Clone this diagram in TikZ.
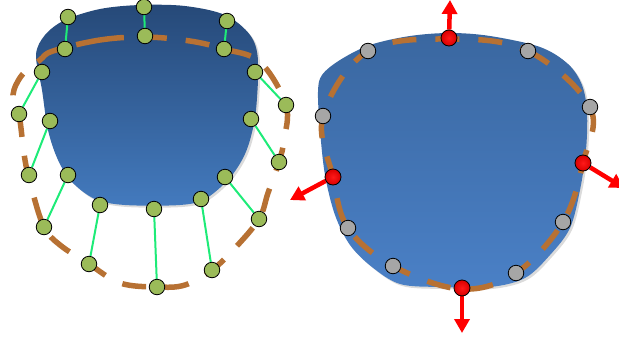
\documentclass[tikz,border=0pt]{standalone}
\usetikzlibrary{arrows.meta}
\pgfdeclarelayer{bg}
\pgfsetlayers{bg,main}
\definecolor{brownd}{RGB}{183,113,51}
\definecolor{gnode}{RGB}{155,187,89}
\definecolor{gline}{RGB}{30,235,120}
\definecolor{gnodegray}{RGB}{166,166,166}
\definecolor{bltop}{RGB}{38,73,120}
\definecolor{blbot}{RGB}{67,122,190}
\definecolor{brtop}{RGB}{58,103,160}
\definecolor{brbot}{RGB}{74,128,198}
\tikzset{
  gdot/.style={circle,draw=black,line width=0.8pt,fill=gnode,minimum size=15.5pt,inner sep=0pt},
  graydot/.style={circle,draw=black,line width=0.8pt,fill=gnodegray,minimum size=15.5pt,inner sep=0pt},
  reddot/.style={circle,draw=black,line width=0.8pt,inner color=red!90,outer color=red!85!black,minimum size=16pt,inner sep=0pt},
  glink/.style={gline,line width=2pt},
  brcurve/.style={brownd,line width=5.5pt,dash pattern=on 24pt off 19pt},
  redarrow/.style={red,line width=4.5pt,-{Triangle[width=15pt,length=14pt]}},
  shadowblob/.style={fill=black!40,opacity=0.35}
}
\begin{document}
\begin{tikzpicture}[x=1pt,y=-1pt]
\useasboundingbox (0,0) rectangle (619,338);
% left green nodes
\node[gdot] (a1) at (68,17) {};
\node[gdot] (b1) at (65,49) {};
\node[gdot] (a2) at (144,7) {};
\node[gdot] (b2) at (145,36) {};
\node[gdot] (a3) at (227,21) {};
\node[gdot] (b3) at (224,49) {};
\node[gdot] (a4) at (42,72) {};
\node[gdot] (b4) at (19,114) {};
\node[gdot] (a5) at (50,121) {};
\node[gdot] (b5) at (29,175) {};
\node[gdot] (a6) at (68,175) {};
\node[gdot] (b6) at (44,227) {};
\node[gdot] (a7) at (100,205) {};
\node[gdot] (b7) at (89,264) {};
\node[gdot] (a8) at (154,209) {};
\node[gdot] (b8) at (157,287) {};
\node[gdot] (a9) at (201,199) {};
\node[gdot] (b9) at (212,270) {};
\node[gdot] (a10) at (225,177) {};
\node[gdot] (b10) at (259,219) {};
\node[gdot] (a11) at (255,72) {};
\node[gdot] (b11) at (286,105) {};
\node[gdot] (a12) at (251,119) {};
\node[gdot] (b12) at (279,162) {};
% right nodes and arrows
\coordinate (tu) at (450,0);
\coordinate (td) at (462,333);
\coordinate (tl) at (290,200);
\coordinate (tr) at (624,188);
\begin{pgfonlayer}{bg}
% left blob
\def\leftblob{plot[smooth cycle,tension=0.55] coordinates {(36,55) (42,90) (48,130) (58,160) (72,182) (95,199) (125,205) (180,205) (205,199) (228,180) (242,160) (250,140) (256,110) (258,60) (250,35) (225,15) (185,6) (140,5) (100,9) (65,20) (45,35)}}
\fill[shadowblob,xshift=2pt,yshift=-2pt] \leftblob;
\shade[top color=bltop,bottom color=blbot] \leftblob;
% right blob
\def\rightblob{plot[smooth cycle,tension=0.55] coordinates {(318,92) (320,130) (325,175) (335,215) (350,245) (372,267) (400,284) (440,287) (490,287) (525,278) (550,255) (570,228) (580,190) (586,150) (587,112) (582,85) (568,64) (540,47) (490,36) (450,33) (410,36) (370,45) (340,60) (322,75)}}
\fill[shadowblob,xshift=2pt,yshift=-2pt] \rightblob;
\shade[top color=brtop,bottom color=brbot] \rightblob;
% left dashed curve
\draw[brcurve] plot[smooth cycle,tension=0.6] coordinates {(53,51) (100,40) (145,37) (190,41) (224,49) (260,62) (286,105) (284,140) (279,162) (268,193) (259,219) (235,248) (212,270) (185,285) (157,287) (120,283) (89,264) (60,245) (44,227) (32,190) (25,160) (19,114) (13,95) (22,75) (40,60)};
% right dashed curve
\draw[brcurve] plot[smooth cycle,tension=0.6] coordinates {(450,39) (528,51) (590,107) (583,163) (563,222) (516,273) (461,289) (393,266) (348,228) (333,177) (323,116) (368,51)};
\foreach \i in {1,...,12} {\draw[glink] (a\i) -- (b\i);}
\end{pgfonlayer}
\node[reddot] (r1) at (449,38) {};
\node[reddot] (r2) at (583,163) {};
\node[reddot] (r3) at (333,177) {};
\node[reddot] (r4) at (462,288) {};
\begin{pgfonlayer}{bg}
\draw[redarrow] (r1) -- (tu);
\draw[redarrow] (r4) -- (td);
\draw[redarrow] (r3) -- (tl);
\draw[redarrow] (r2) -- (tr);
\end{pgfonlayer}
% gray nodes
\node[graydot] (g1) at (368,51) {};
\node[graydot] (g2) at (528,51) {};
\node[graydot] (g3) at (323,116) {};
\node[graydot] (g4) at (590,107) {};
\node[graydot] (g5) at (348,228) {};
\node[graydot] (g6) at (393,266) {};
\node[graydot] (g7) at (516,273) {};
\node[graydot] (g8) at (563,222) {};
\end{tikzpicture}
\end{document}
